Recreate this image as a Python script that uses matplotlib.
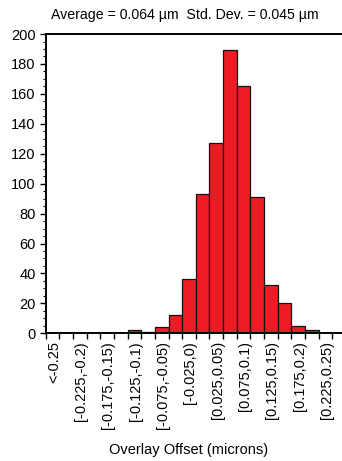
import numpy as np
import matplotlib.pyplot as plt
from matplotlib.ticker import MultipleLocator

plt.rcParams['font.family'] = ['Liberation Sans', 'DejaVu Sans']

# histogram bins of the overlay offset, 0.025 micron wide
bins = ["<-0.25",
        "[-0.25,-0.225)", "[-0.225,-0.2)", "[-0.2,-0.175)", "[-0.175,-0.15)",
        "[-0.15,-0.125)", "[-0.125,-0.1)", "[-0.1,-0.075)", "[-0.075,-0.05)",
        "[-0.05,-0.025)", "[-0.025,0)", "[0,0.025)", "[0.025,0.05)",
        "[0.05,0.075)", "[0.075,0.1)", "[0.1,0.125)", "[0.125,0.15)",
        "[0.15,0.175)", "[0.175,0.2)", "[0.2,0.225)", "[0.225,0.25)"]
counts = [0, 0, 0, 0, 0, 0, 2, 1, 4, 12, 36, 93, 127, 189, 165, 91, 32, 20, 5, 2, 0]

avg = 0.064
std = 0.045

fs = 10.5

fig = plt.figure(figsize=(3.42, 4.61), dpi=100)
ax = fig.add_axes([0.1336, 0.277, 0.8664, 0.6492])

x = np.arange(len(bins))
ax.bar(x, counts, width=1.0, color='#ED1C24', edgecolor='#111111', linewidth=0.9)

ax.set_xlim(-0.5, 21.21)
ax.set_ylim(0, 200)

# bin edges as ticks, every other bin gets a label
ax.set_xticks(np.arange(-0.5, len(bins) + 0.5, 1.0))
ax.set_xticklabels([])
ax.set_xticks(x[::2] + 0.1, minor=True)
ax.set_xticklabels(bins[::2], minor=True, rotation=90, fontsize=fs)
ax.tick_params(axis='x', which='major', direction='out', length=4.3, width=1.0)
ax.tick_params(axis='x', which='minor', length=0, pad=5.5)

ax.yaxis.set_major_locator(MultipleLocator(20))
ax.yaxis.set_minor_locator(MultipleLocator(5))
ax.tick_params(axis='y', which='major', direction='out', length=4.3, width=1.0,
               labelsize=fs, pad=3)
ax.tick_params(axis='y', which='minor', direction='out', length=2.2, width=0.8)

for s in ['left', 'bottom', 'top']:
    ax.spines[s].set_linewidth(1.4)
ax.spines['right'].set_visible(False)

fig.text(0.541, 0.967, f"Average = {avg:.3f} \u00b5m  Std. Dev. = {std:.3f} \u00b5m",
         ha='center', va='center', fontsize=10.2)
fig.text(0.55, 0.024, "Overlay Offset (microns)", ha='center', va='center', fontsize=fs)

fig.savefig('out.png', dpi=100)
